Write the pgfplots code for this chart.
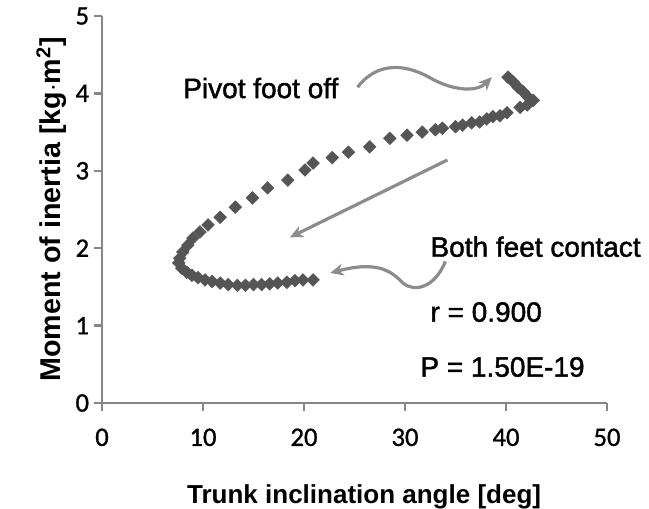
\documentclass[border=0pt]{standalone}
\usepackage{pgfplots}
\pgfplotsset{compat=1.18}
\usepackage{fontspec}
\setmainfont{Liberation Sans}
\newfontfamily\annot[FakeBold=1.5]{Liberation Sans}
\newfontfamily\carlito[FakeBold=1]{Carlito}
\usetikzlibrary{arrows.meta}

\definecolor{axisgray}{RGB}{134,134,134}
\definecolor{markgray}{RGB}{85,85,85}
\definecolor{arrowgray}{RGB}{140,140,140}

% trunk angle vs moment of inertia, one turn
\pgfplotstableread{
x y
40.2 4.21
40.7 4.15
41.2 4.08
41.7 4.02
42.2 3.95
42.7 3.91
42.1 3.85
41.4 3.82
40.1 3.75
39.4 3.71
38.7 3.70
38.1 3.67
37.4 3.63
36.6 3.62
35.7 3.59
35.0 3.57
33.7 3.55
33.0 3.53
31.7 3.50
30.2 3.46
28.5 3.42
26.5 3.31
24.4 3.24
22.8 3.17
20.9 3.10
20.1 3.01
18.4 2.88
16.4 2.78
14.9 2.65
13.2 2.53
11.7 2.40
10.5 2.30
9.7 2.21
9.0 2.13
8.5 2.04
8.0 1.95
7.7 1.87
7.6 1.81
7.9 1.74
8.4 1.69
8.9 1.65
9.5 1.62
10.2 1.59
10.9 1.57
11.7 1.55
12.5 1.53
13.4 1.52
14.2 1.52
15.0 1.53
15.8 1.53
16.6 1.54
17.4 1.55
18.3 1.56
19.1 1.58
19.9 1.59
20.9 1.59
}\trunkdata

\begin{document}
\begin{tikzpicture}
\begin{axis}[
    scale only axis,
    width=378.75pt, height=290.25pt,
    xmin=0, xmax=50, ymin=0, ymax=5,
    xtick={0,10,...,50}, ytick={0,1,...,5},
    axis lines*=left,
    axis line style={axisgray, line width=1.8pt},
    tick style={axisgray, line width=1.8pt},
    tick align=outside,
    major tick length=6pt,
    clip=false,
    /pgf/number format/assume math mode=true,
    tick label style={font=\carlito\fontsize{20}{22}\selectfont, inner sep=0pt},
    xticklabel shift=13pt,
    yticklabel shift=3.5pt,
    xlabel={\bfseries Trunk inclination angle [deg]},
    ylabel={\bfseries Moment of inertia [kg$\cdot$m\textsuperscript{2}]},
    xlabel style={font=\fontsize{19.5}{21}\selectfont, at={(axis description cs:0.519,0)}, anchor=base, yshift=-75pt, inner sep=0pt},
    ylabel style={font=\fontsize{21.5}{23}\selectfont, at={(axis description cs:-0.10,0.5)}, anchor=center, inner sep=0pt},
]
\addplot[only marks, mark=square*, mark size=3.4pt,
    mark options={rotate=45, fill=markgray, draw=markgray, line width=0.3pt}]
    table[x=x, y=y] {\trunkdata};

\begin{scope}[arrowgray, line width=2.4pt, -{Stealth[length=10pt, width=9pt]}]
\draw (axis cs:25.3,4.08) .. controls (axis cs:27.5,4.45) and (axis cs:30.5,4.35) .. (axis cs:32.5,4.2)
      .. controls (axis cs:34.5,4.05) and (axis cs:37,4.0) .. (axis cs:38.6,4.21);
\draw (axis cs:34.2,3.14) -- (axis cs:18.6,2.14);
\draw (axis cs:34.0,1.83) .. controls (axis cs:33,1.5) and (axis cs:31,1.42) .. (axis cs:29.8,1.55)
      .. controls (axis cs:28.8,1.68) and (axis cs:27.5,1.85) .. (axis cs:22.6,1.68);
\end{scope}

\begin{scope}[font=\annot\fontsize{21}{23}\selectfont, inner sep=0pt]
\node[anchor=base west] at (axis cs:8.02,3.94) {Pivot foot off};
\node[anchor=base west] at (axis cs:32.5,1.89) {Both feet contact};
\node[anchor=base west] at (axis cs:32.5,1.05) {r = 0.900};
\node[anchor=base west] at (axis cs:31.5,0.34) {P = 1.50E-19};
\end{scope}
\end{axis}
\pgfresetboundingbox
\path (-76.5pt,-78.75pt) rectangle (410.25pt,302.25pt);
\end{tikzpicture}
\end{document}
